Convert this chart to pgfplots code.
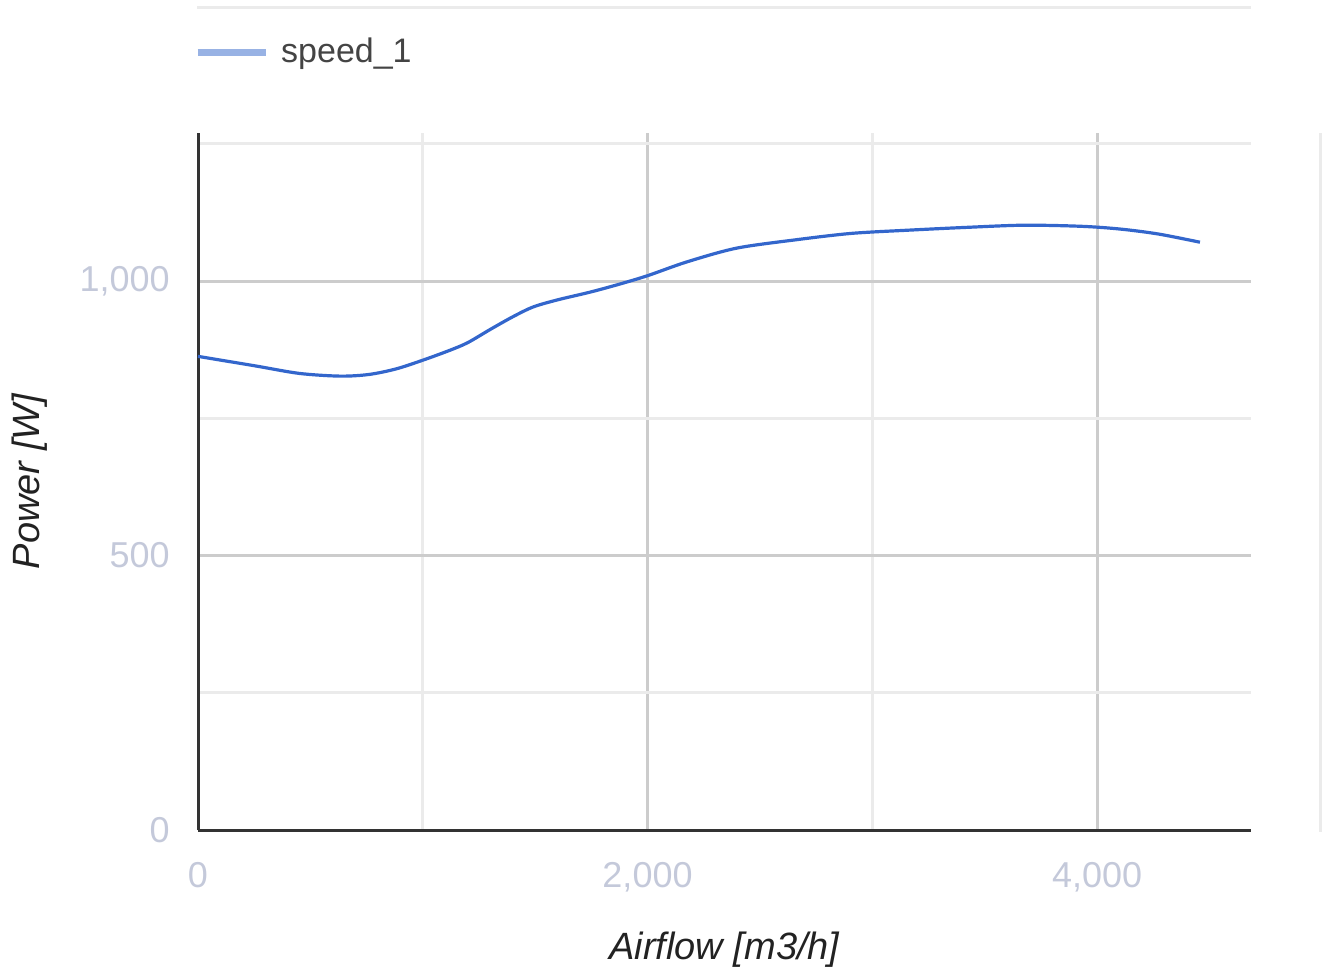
\documentclass[border=0pt]{standalone}
\usepackage{fontspec}
\setmainfont{Liberation Sans}
\usepackage{pgfplots}
\pgfplotsset{compat=1.18}

\definecolor{curveblue}{RGB}{51,102,204}
\definecolor{legendblue}{RGB}{152,178,228}
\definecolor{ticktext}{RGB}{196,201,218}
\definecolor{titletext}{RGB}{34,34,34}
\definecolor{legtext}{RGB}{68,68,68}
\definecolor{majgrid}{RGB}{204,204,204}
\definecolor{mingrid}{RGB}{235,235,235}
\definecolor{axisdark}{RGB}{51,51,51}

\begin{document}
\begin{tikzpicture}
% canvas of the reference: 1325 x 976 px at 0.5pt per px
\useasboundingbox (0,0) rectangle (662.5pt,488pt);
% faint frame lines of the original chart
\draw[mingrid, line width=1.5pt] (98.5pt,484pt) -- (625.5pt,484pt);
\draw[mingrid, line width=1.5pt] (660pt,72pt) -- (660pt,421.5pt);

\begin{axis}[
    at={(99pt,73pt)}, anchor=south west,
    scale only axis,
    width=526.5pt, height=348.5pt,
    xmin=0, xmax=4685,
    ymin=0, ymax=1270,
    axis lines=left,
    axis line style={-, draw=axisdark, line width=1.5pt},
    xtick={0,2000,4000},
    ytick={0,500,1000},
    minor xtick={1000,3000},
    minor ytick={250,750,1250},
    major tick length=0pt, minor tick length=0pt,
    grid=both,
    major grid style={majgrid, line width=1.5pt},
    minor grid style={mingrid, line width=1.5pt},
    /pgf/number format/assume math mode=true,
    /pgf/number format/1000 sep={,},
    ticklabel style={font=\fontsize{18}{20}\selectfont, text=ticktext},
    xticklabel style={inner sep=0pt, anchor=north, yshift=-16pt},
    yticklabel style={inner sep=0pt, anchor=east, xshift=-14pt},
    xlabel={\itshape Airflow [m3/h]},
    ylabel={\itshape Power [W]},
    label style={font=\fontsize{19}{21}\selectfont, text=titletext},
    xlabel style={at={(axis description cs:0.5,-0.172)}, anchor=center},
    ylabel style={at={(axis description cs:-0.16,0.5)}, anchor=center},
    legend style={at={(axis description cs:-0.004,1.116)}, anchor=west,
        draw=none, fill=none, inner sep=0pt,
        font=\fontsize{17}{19}\selectfont, text=legtext,
        nodes={inner sep=0pt}, column sep=6pt},
    legend image code/.code={\draw[legendblue, line width=3.5pt] (0pt,0pt) -- (34pt,0pt);},
    clip=false,
]
\addplot[curveblue, line width=1.6pt, smooth, tension=0.5] coordinates {
(0,863)(250,846)(450,832)(632,827)(760,830)(880,840)(1000,856)
(1120,874)(1200,888)(1300,912)(1400,935)(1491,953)(1600,966)
(1744,980)(1870,994)(2000,1010)(2174,1035)(2394,1060)(2652,1075)
(2905,1087)(3164,1093)(3417,1098)(3675,1102)(3929,1100)(4102,1095)
(4272,1086)(4458,1071)
};
\addlegendentry{speed\_1}
\end{axis}
\end{tikzpicture}
\end{document}
